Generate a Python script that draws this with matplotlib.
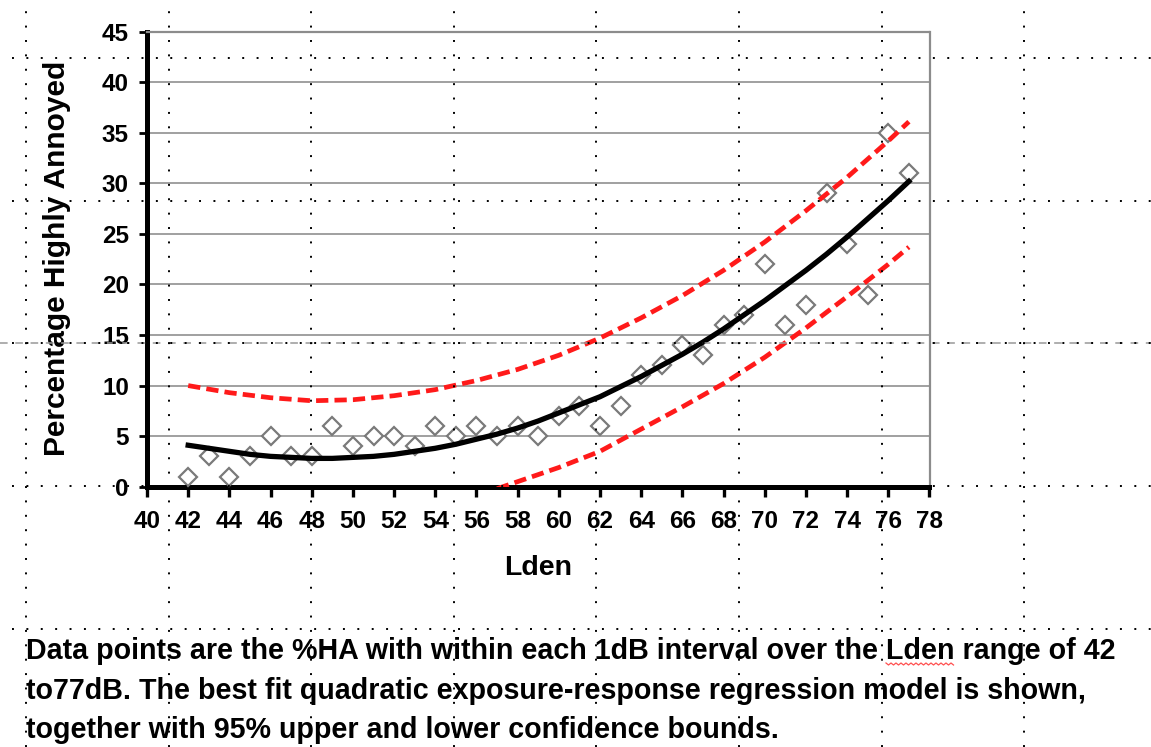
import matplotlib
matplotlib.use("Agg")
import matplotlib.pyplot as plt
from matplotlib.lines import Line2D

# %HA per 1 dB Lden bin
lden = list(range(42, 78))
pct_ha = [1, 3, 1, 3, 5, 3, 3, 6, 4, 5, 5, 4, 6, 5, 6, 5, 6, 5,
          7, 8, 6, 8, 11, 12, 14, 13, 16, 17, 22, 16, 18, 29, 24, 19, 35, 31]

# best fit quadratic (values read at each dB)
fit = [4.1, 3.8, 3.5, 3.2, 3.0, 2.9, 2.8, 2.8, 2.9, 3.0, 3.2, 3.5,
       3.8, 4.2, 4.7, 5.2, 5.8, 6.5, 7.3, 8.1, 8.9, 9.9, 10.9, 12.0,
       13.1, 14.3, 15.6, 17.0, 18.4, 19.9, 21.4, 23.0, 24.7, 26.5, 28.3, 30.2]

# 95% bounds
upper_x = [42, 44, 46, 48, 50, 52, 54, 56, 58, 60, 62, 64, 66, 68, 70, 72, 74, 76, 77]
upper = [10.0, 9.3, 8.8, 8.5, 8.6, 9.0, 9.6, 10.5, 11.6, 13.0, 14.7, 16.7,
         18.9, 21.4, 24.2, 27.3, 30.6, 34.2, 36.1]
lower_x = [57, 58, 60, 62, 64, 66, 68, 70, 72, 74, 76, 77]
lower = [-0.2, 0.5, 1.9, 3.5, 5.7, 7.9, 10.2, 12.8, 15.7, 18.8, 22.0, 23.7]

xticks = list(range(40, 79, 2))
yticks = list(range(0, 46, 5))

caption = ["Data points are the %HA with within each 1dB interval over the Lden range of 42",
           "to77dB. The best fit quadratic exposure-response regression model is shown,",
           "together with 95% upper and lower confidence bounds."]

W, H = 1151, 747
fig = plt.figure(figsize=(W / 100, H / 100), dpi=100)
fig.patch.set_facecolor("white")

ax = fig.add_axes([147 / W, 1 - 486.7 / H, (929.5 - 147) / W, (486.7 - 31.7) / H])
ax.set_xlim(40, 78)
ax.set_ylim(0, 45)

ax.yaxis.grid(True, color="#a0a0a0", linewidth=1.4)
ax.set_axisbelow(True)

ax.plot(lden, pct_ha, linestyle="none", marker="D", markersize=8.8,
        markerfacecolor="white", markeredgecolor="#7a7a7a", markeredgewidth=1.6, zorder=3)
ax.plot(upper_x, upper, color="#ff1a1a", linewidth=3.4, linestyle=(0, (2.6, 1.3)), zorder=4)
ax.plot(lower_x, lower, color="#ff1a1a", linewidth=3.4, linestyle=(0, (2.6, 1.3)), zorder=4)
ax.plot(lden, fit, color="black", linewidth=3.8, zorder=5)

ax.set_xticks(xticks)
ax.set_yticks(yticks)
tick_font = dict(family="Liberation Sans", weight="bold", size=17.5)
ax.set_xticklabels([str(t) for t in xticks], fontdict=tick_font)
ax.set_yticklabels([str(t) for t in yticks], fontdict=tick_font)
ax.tick_params(axis="x", direction="out", length=7, width=2.4, pad=10, color="black")
ax.tick_params(axis="y", direction="out", length=6, width=2.0, pad=7, color="black")

for side in ["left", "bottom"]:
    ax.spines[side].set_linewidth(3.6)
    ax.spines[side].set_color("black")
for side in ["top", "right"]:
    ax.spines[side].set_linewidth(1.6)
    ax.spines[side].set_color("#8c8c8c")

fig.text(538 / W, 1 - 568 / H, "Lden", family="Liberation Sans", weight="bold",
         size=20.5, ha="center", va="center")
fig.text(57 / W, 1 - 258 / H, "Percentage Highly Annoyed", family="Liberation Sans",
         weight="bold", size=21.5, rotation=90, ha="center", va="center")

baselines = [659, 699, 738]
cap_x = 26
cap_size = 20.6
for line, yb in zip(caption, baselines):
    fig.text(cap_x / W, 1 - yb / H, line, family="Liberation Sans", weight="bold",
             size=cap_size, ha="left", va="baseline")

# spell-check squiggle under "Lden" in the caption
fig.canvas.draw()
renderer = fig.canvas.get_renderer()
pre = fig.text(cap_x / W, 0.5, caption[0].split("Lden")[0], family="Liberation Sans",
               weight="bold", size=cap_size)
word = fig.text(cap_x / W, 0.5, "Lden", family="Liberation Sans", weight="bold", size=cap_size)
x0 = cap_x + pre.get_window_extent(renderer).width
x1 = x0 + word.get_window_extent(renderer).width
pre.remove()
word.remove()
sq_x, sq_y = [], []
k = 0
px = x0
while px <= x1:
    sq_x.append(px / W)
    sq_y.append(1 - (baselines[0] + 4 + (2 if k % 2 else 0)) / H)
    px += 2.5
    k += 1
fig.add_artist(Line2D(sq_x, sq_y, transform=fig.transFigure, color="#ff5050", linewidth=0.9))

# word-processor layout grid behind the picture
grid_x = [26 + 142.6 * i for i in range(8)]
grid_y = [58 + 142.7 * i for i in range(5)]
fig.add_artist(Line2D([0, 1], [1 - 343 / H, 1 - 343 / H], transform=fig.transFigure,
                      color="#999999", linewidth=1.1, linestyle=(0, (5, 5)), zorder=9))
for gx in grid_x:
    fig.add_artist(Line2D([gx / W, gx / W], [0, 1], transform=fig.transFigure,
                          color="black", linewidth=1.4, linestyle=(0, (1, 6.4)), zorder=10))
for gy in grid_y:
    fig.add_artist(Line2D([0.01, 1], [1 - gy / H, 1 - gy / H], transform=fig.transFigure,
                          color="black", linewidth=1.4, linestyle=(0, (1, 6.4)), zorder=10))

fig.savefig("out.png", dpi=100)
